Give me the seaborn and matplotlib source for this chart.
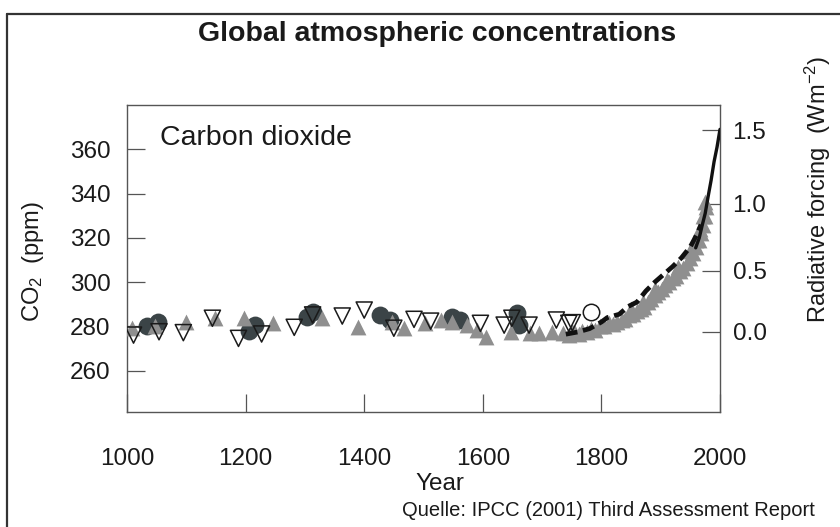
import matplotlib
matplotlib.use("Agg")
import matplotlib.pyplot as plt
import seaborn as sns
import numpy as np
import pandas as pd
from matplotlib.lines import Line2D

# ---------------- data ----------------
circle_years = [1033, 1052, 1205, 1216, 1304, 1314, 1427, 1444, 1548, 1562, 1658, 1661]
circle_ppm = [280.2, 282.1, 278.1, 280.6, 284.4, 286.6, 285.2, 282.9, 284.4, 282.9, 285.9, 280.6]

gray_years = [1009, 1047, 1099, 1149, 1197, 1247, 1329, 1389, 1447, 1467, 1503, 1529, 1548,
              1574, 1591, 1605, 1647, 1680, 1695, 1717,
              1735, 1745, 1750, 1755, 1762, 1768, 1775, 1782, 1790, 1797, 1805, 1812, 1820,
              1827, 1834, 1840, 1847, 1853, 1860, 1866, 1872, 1878, 1884, 1890, 1896, 1902,
              1908, 1914, 1920, 1926, 1932, 1938, 1944, 1950, 1955, 1960, 1964, 1968, 1971,
              1974, 1976,
              1850, 1870, 1890, 1910, 1930, 1950, 1960, 1966, 1972, 1975]
gray_ppm = [279.2, 280.0, 282.1, 283.7, 283.7, 281.7, 283.7, 279.6, 282.1, 279.2, 281.4, 282.9, 282.1,
            280.6, 278.4, 275.4, 277.6, 276.9, 276.9, 277.6,
            277.0, 276.0, 278.0, 277.0, 276.5, 278.0, 277.5, 279.0, 278.5, 280.0, 280.0, 281.5, 281.0,
            282.0, 283.0, 283.5, 285.0, 285.5, 287.0, 288.0, 289.0, 291.0, 292.5, 294.0, 295.5, 297.0,
            298.5, 300.0, 302.0, 303.0, 305.0, 306.5, 308.5, 311.0, 313.0, 316.0, 319.0, 322.0, 326.0,
            330.0, 334.0,
            288.0, 291.0, 297.0, 301.0, 307.0, 314.0, 319.0, 324.0, 330.0, 336.0]

open_tri_years = [1011, 1054, 1095, 1144, 1188, 1227, 1282, 1313, 1363, 1400, 1450, 1484, 1512,
                  1596, 1636, 1649, 1678, 1724, 1745, 1751]
open_tri_ppm = [276.1, 277.6, 277.2, 283.7, 274.6, 276.6, 279.6, 285.2, 284.7, 287.4, 279.2, 283.2,
                282.4, 281.4, 280.6, 283.7, 280.6, 282.9, 281.4, 281.7]

open_circle_years = [1782]
open_circle_ppm = [286.6]

icecore_years = [1740, 1760, 1780, 1800, 1810, 1830, 1845, 1860, 1875, 1890, 1905, 1920, 1935,
                 1950, 1960, 1968]
icecore_ppm = [276.5, 277.5, 279.0, 282.0, 284.0, 285.5, 289.0, 291.0, 296.0, 300.0, 303.5, 307.0,
               311.0, 316.0, 321.0, 326.0]

ml_years = [1959, 1965, 1970, 1975, 1980, 1985, 1990, 1995, 2000]
ml_ppm = [315.5, 320.0, 325.7, 331.0, 338.7, 346.0, 354.4, 361.0, 369.0]

x_ticks = [1000, 1200, 1400, 1600, 1800, 2000]
y_ticks = [260, 280, 300, 320, 340, 360]
rf_ticks = [0.0, 0.5, 1.0, 1.5]

# ---------------- style ----------------
sns.set_style("ticks")
plt.rcParams['font.family'] = ['Liberation Sans', 'DejaVu Sans']
plt.rcParams['mathtext.fontset'] = 'custom'
plt.rcParams['mathtext.rm'] = 'Liberation Sans'
plt.rcParams['mathtext.it'] = 'Liberation Sans:italic'
plt.rcParams['mathtext.default'] = 'regular'

W, H = 840, 527
fig = plt.figure(figsize=(W / 100, H / 100), dpi=100)
fig.patch.set_facecolor('white')
ax = fig.add_axes([127 / W, 1 - 411.7 / H, (720 - 127) / W, (411.7 - 105) / H])
ax.set_facecolor('white')

# figure frame (top and left edges)
fig.add_artist(Line2D([7 / W, 7 / W], [0, 1 - 14 / H], transform=fig.transFigure,
                      color='#333333', lw=1.6))
fig.add_artist(Line2D([7 / W, 1], [1 - 14 / H, 1 - 14 / H], transform=fig.transFigure,
                      color='#333333', lw=1.6))

dark = '#3b4447'
gray = '#8f8f8f'

sns.scatterplot(x=circle_years, y=circle_ppm, ax=ax, marker='o', s=165, color=dark,
                edgecolor=dark, linewidth=0, zorder=2)
sns.scatterplot(x=gray_years, y=gray_ppm, ax=ax, marker='^', s=130, color=gray,
                edgecolor=gray, linewidth=0, zorder=3)
sns.scatterplot(x=open_tri_years, y=open_tri_ppm, ax=ax, marker='v', s=135, facecolor='none',
                edgecolor='#1a1a1a', linewidth=1.1, zorder=4)
sns.scatterplot(x=open_circle_years, y=open_circle_ppm, ax=ax, marker='o', s=140, facecolor='white',
                edgecolor='#1a1a1a', linewidth=1.1, zorder=4)
sns.lineplot(x=icecore_years, y=icecore_ppm, ax=ax, color='#111111', lw=3.4,
             dashes=False, zorder=5, estimator=None)
ax.lines[-1].set_dashes([2.5, 1.2])
sns.lineplot(x=ml_years, y=ml_ppm, ax=ax, color='#111111', lw=2.4, zorder=6, estimator=None)

ax.set_xlim(1000, 2000)
ax.set_ylim(241.5, 380)
ax.set_xticks(x_ticks)
ax.set_yticks(y_ticks)
ax.set_xlabel('')
ax.set_ylabel('')
for sp in ax.spines.values():
    sp.set_visible(True)
    sp.set_color('#555555')
    sp.set_linewidth(1.0)
ax.tick_params(axis='x', direction='in', length=13, width=0.9, color='#555555',
               pad=26, labelsize=17.5, labelcolor='#1a1a1a')
ax.tick_params(axis='y', direction='in', length=13, width=0.9, color='#555555',
               pad=12, labelsize=17.5, labelcolor='#1a1a1a', right=False)

k, c0 = 5.3, 277.7
sec = ax.secondary_yaxis('right', functions=(lambda c: k * np.log(np.clip(c, 1, None) / c0),
                                             lambda f: c0 * np.exp(f / k)))
sec.set_yticks(rf_ticks)
sec.set_yticklabels([f'{v:.1f}' for v in rf_ticks])
sec.spines['right'].set_visible(False)
sec.tick_params(axis='y', direction='in', length=13, width=0.9, color='#555555',
                pad=9, labelsize=17.5, labelcolor='#1a1a1a')

# texts
fig.text(437 / W, 1 - 34 / H, 'Global atmospheric concentrations', ha='center', va='center',
         fontsize=20.5, fontweight='bold', color='#1a1a1a')
fig.text(160 / W, 1 - 138 / H, 'Carbon dioxide', ha='left', va='center', fontsize=20.5,
         color='#1a1a1a')
fig.text(33 / W, 1 - 262 / H, r'CO$_2$  (ppm)', ha='center', va='center', rotation=90,
         fontsize=17, color='#1a1a1a')
fig.text(818 / W, 1 - 189 / H, r'Radiative forcing  (Wm$^{-2}$)', ha='center', va='center',
         rotation=90, fontsize=17, color='#1a1a1a')
fig.text(440 / W, 1 - 484 / H, 'Year', ha='center', va='center', fontsize=17.5, color='#1a1a1a')
fig.text(815 / W, 1 - 511 / H, 'Quelle: IPCC (2001) Third Assessment Report', ha='right',
         va='center', fontsize=14.5, color='#1a1a1a')

fig.savefig('out.png', dpi=100, facecolor='white')
